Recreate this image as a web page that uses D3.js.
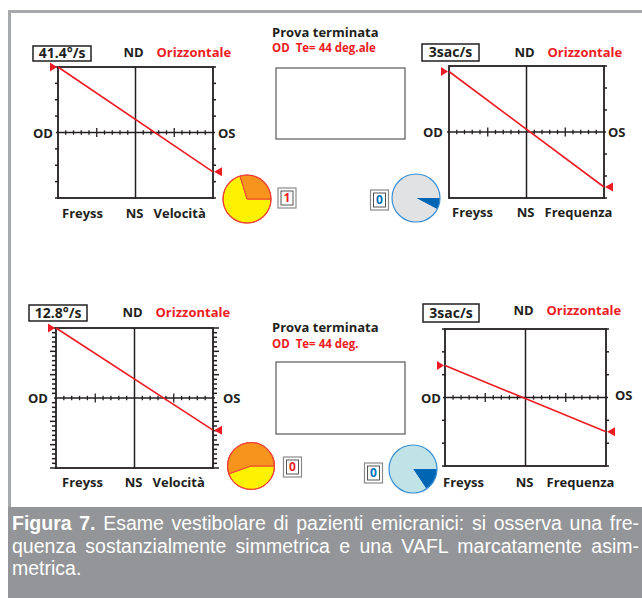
<!DOCTYPE html>
<html>
<head>
<meta charset="utf-8">
<script src="https://cdn.jsdelivr.net/npm/d3@7"></script>
<style>
  body { margin: 0; background: #fff; }
  svg { display: block; }
</style>
</head>
<body>
<div id="chart"></div>
<script>
// Dati dei quattro pannelli: alto-sx, alto-dx, basso-sx, basso-dx
const valueLabels = ["41.4°/s", "3sac/s", "12.8°/s", "3sac/s"];
const bottomLabels = ["Velocità", "Frequenza", "Velocità", "Frequenza"];
const yLimits = [40, 3, 15, 3];
const yTickSteps = [10, 1, 1, 1];
const yMajorSteps = [0, 0, 5, 0];
const lineStartValues = [40, 2.75, 15, 1.4];     // lato OD
const lineEndValues = [-24, -2.5, -6.9, -1.5];   // lato OS
const xDomain = [-10, 10];
const xMajorTicks = [-5, 5];
const pieMainShare = [70.3, 7.8, 44.6, 15.6];    // giallo / blu scuro (%)
const counterValues = ["1", "0", "0", "0"];
const resultTitle = "Prova terminata";
const resultLines = ["OD  Te= 44 deg.ale", "OD  Te= 44 deg."];
const captionBold = "Figura 7.";
const captionLines = [
    " Esame vestibolare di pazienti emicranici: si osserva una fre-",
    "quenza sostanzialmente simmetrica e una VAFL marcatamente asim-",
    "metrica."
];

const W = 642, H = 598;
const RED = "#ed1c24", INK = "#231f20";
const FONT = "'Open Sans', 'Noto Sans', sans-serif";

// posizioni dei pannelli (pixel)
const layout = [
    { x: 58,  y: 67,  w: 155, h: 131, ticksL: true,  tickLen: 3, label: [33, 46, 58, 15], head: 57, foot: 218, odX: 53, osX: 218, freyss: 62, pie: [247, 199, 24], box: [287, 198], pieType: "vel" },
    { x: 449, y: 66,  w: 155, h: 132, ticksL: false, tickLen: 3, label: [422, 44, 57, 17], head: 57, foot: 217, odX: 443, osX: 608, freyss: 452, pie: [416, 198, 24], box: [379.5, 200], pieType: "freq" },
    { x: 56,  y: 328, w: 157, h: 140, ticksL: true,  tickLen: 4, label: [29, 305, 58, 16], head: 317, foot: 487, odX: 48, osX: 223, freyss: 62, pie: [251, 466, 23.5], box: [292.5, 467], pieType: "vel" },
    { x: 445, y: 329, w: 161, h: 137, ticksL: true,  tickLen: 3, label: [423, 304, 56, 18], head: 315, foot: 487, odX: 441, osX: 615, freyss: 443, pie: [413, 469, 24], box: [373.5, 473], pieType: "freq2" }
];

const pieColors = {
    vel:   { main: "#fff200", rest: "#f7941e", stroke: "#ef4136", text: RED },
    freq:  { main: "#0066b3", rest: "#e1e2e3", stroke: "#3a8fd4", text: "#0072bc" },
    freq2: { main: "#0066b3", rest: "#bfe3e7", stroke: "#3a8fd4", text: "#0072bc" }
};

const svg = d3.select("#chart").append("svg")
    .attr("width", W).attr("height", H)
    .attr("viewBox", [0, 0, W, H])
    .style("font-family", FONT);

// cornice grigia e didascalia
svg.append("rect").attr("x", 8).attr("y", 10).attr("width", W - 8).attr("height", H - 10).attr("fill", "#a7a9ac");
svg.append("rect").attr("x", 11).attr("y", 13).attr("width", W - 11).attr("height", 494).attr("fill", "#fff");
svg.append("rect").attr("x", 8).attr("y", 507).attr("width", W - 8).attr("height", H - 507).attr("fill", "#939598");

// ---- pannelli ----
layout.forEach((L, i) => {
    const g = svg.append("g");
    const x = d3.scaleLinear().domain(xDomain).range([L.x, L.x + L.w]);
    const y = d3.scaleLinear().domain([yLimits[i], -yLimits[i]]).range([L.y, L.y + L.h]);
    const cx = x(0), cy = y(0);

    // tacche sui bordi verticali
    const yt = d3.range(-yLimits[i], yLimits[i] + 1e-9, yTickSteps[i]).filter(v => v !== 0);
    const tickLen = v => (yMajorSteps[i] && Math.abs(v) % yMajorSteps[i] === 0) ? L.tickLen + 2 : L.tickLen;
    const sides = L.ticksL ? [-1, 1] : [1];
    sides.forEach(s => {
        const ex = s < 0 ? L.x : L.x + L.w;
        g.append("g").selectAll("line").data(yt).join("line")
            .attr("x1", ex).attr("x2", d => ex + s * tickLen(d))
            .attr("y1", d => y(d)).attr("y2", d => y(d))
            .attr("stroke", INK).attr("stroke-width", 1.5);
    });

    // cornice del grafico e assi
    g.append("rect").attr("x", L.x).attr("y", L.y).attr("width", L.w).attr("height", L.h)
        .attr("fill", "none").attr("stroke", INK).attr("stroke-width", 1.8);
    g.append("line").attr("x1", cx).attr("x2", cx).attr("y1", L.y).attr("y2", L.y + L.h)
        .attr("stroke", INK).attr("stroke-width", 1.5);
    g.append("line").attr("x1", L.x - 2).attr("x2", L.x + L.w + 2).attr("y1", cy).attr("y2", cy)
        .attr("stroke", INK).attr("stroke-width", 1.6);

    // tacche asse orizzontale
    const xt = d3.range(xDomain[0] + 1, xDomain[1]).filter(v => v !== 0);
    g.append("g").selectAll("line").data(xt).join("line")
        .attr("x1", d => x(d)).attr("x2", d => x(d))
        .attr("y1", d => cy - (xMajorTicks.includes(d) ? 4.5 : 2.2))
        .attr("y2", d => cy + (xMajorTicks.includes(d) ? 4.5 : 2.2))
        .attr("stroke", INK).attr("stroke-width", 1.3);

    // retta rossa
    const x0 = x(xDomain[0]), x1 = x(xDomain[1]);
    const y0 = y(lineStartValues[i]), y1 = y(lineEndValues[i]);
    g.append("line").attr("x1", x0).attr("y1", y0).attr("x2", x1).attr("y2", y1)
        .attr("stroke", RED).attr("stroke-width", 1.6);
    g.append("path").attr("d", `M${x0 - 1},${y0} L${x0 - 8},${y0 - 4.5} L${x0 - 8},${y0 + 4.5}Z`).attr("fill", RED);
    g.append("path").attr("d", `M${x1 + 1},${y1} L${x1 + 9},${y1 - 4.5} L${x1 + 9},${y1 + 4.5}Z`).attr("fill", RED);

    // etichette
    const [bx, by, bw, bh] = L.label;
    g.append("rect").attr("x", bx).attr("y", by).attr("width", bw).attr("height", bh)
        .attr("fill", "#fff").attr("stroke", INK).attr("stroke-width", 1.5);
    g.append("text").attr("x", bx + bw / 2).attr("y", by + bh / 2).attr("dy", "0.35em")
        .attr("text-anchor", "middle").style("font-size", "14px").style("font-weight", 700)
        .attr("fill", INK).text(valueLabels[i]);

    const txt = (tx, ty, s, anchor, col) => g.append("text").attr("x", tx).attr("y", ty)
        .attr("text-anchor", anchor || "start").attr("fill", col || INK)
        .style("font-size", "13px").style("font-weight", 700).text(s);

    txt(cx - 2, L.head, "ND", "middle");
    txt(cx + 21, L.head, "Orizzontale", "start", RED);
    txt(L.odX, cy + 5, "OD", "end");
    txt(L.osX, cy + (i === 3 ? 2 : 5), "OS");
    txt(L.freyss, L.foot, "Freyss");
    txt(cx - 1, L.foot, "NS", "middle");
    txt(cx + (i === 3 ? 21 : 18), L.foot, bottomLabels[i]);

    // torta
    const pc = pieColors[L.pieType];
    const [px, py, pr] = L.pie;
    const pie = d3.pie().sort(null).startAngle(Math.PI / 2).endAngle(Math.PI / 2 + 2 * Math.PI);
    const arc = d3.arc().innerRadius(0).outerRadius(pr);
    g.append("g").attr("transform", `translate(${px},${py})`)
        .selectAll("path").data(pie([pieMainShare[i], 100 - pieMainShare[i]])).join("path")
        .attr("d", arc)
        .attr("fill", (d, k) => k === 0 ? pc.main : pc.rest)
        .attr("stroke", L.pieType === "vel" ? pc.stroke : "none").attr("stroke-width", 1);
    g.append("circle").attr("cx", px).attr("cy", py).attr("r", pr)
        .attr("fill", "none").attr("stroke", pc.stroke).attr("stroke-width", 1.2);

    // contatore
    const [qx, qy] = L.box;
    g.append("rect").attr("x", qx - 9).attr("y", qy - 10).attr("width", 18).attr("height", 20)
        .attr("fill", "#fff").attr("stroke", "#8a8a8a").attr("stroke-width", 1.2);
    g.append("rect").attr("x", qx - 6).attr("y", qy - 7).attr("width", 12).attr("height", 14)
        .attr("fill", "#fff").attr("stroke", "#555").attr("stroke-width", 1);
    g.append("text").attr("x", qx).attr("y", qy).attr("dy", "0.36em").attr("text-anchor", "middle")
        .style("font-size", "12px").style("font-weight", 700).attr("fill", pc.text).text(counterValues[i]);
});

// ---- riquadri centrali "Prova terminata" ----
const middle = [{ t: 37, r: 52, box: [276, 68, 129, 71] }, { t: 332, r: 348, box: [276, 362, 129, 72] }];
middle.forEach((m, k) => {
    svg.append("text").attr("x", 272).attr("y", m.t).attr("fill", INK)
        .style("font-size", "13px").style("font-weight", 700).text(resultTitle);
    svg.append("text").attr("x", 272).attr("y", m.r).attr("fill", RED)
        .style("font-size", "11.5px").style("font-weight", 700).style("white-space", "pre").text(resultLines[k]);
    svg.append("rect").attr("x", m.box[0]).attr("y", m.box[1]).attr("width", m.box[2]).attr("height", m.box[3])
        .attr("fill", "#fff").attr("stroke", "#58595b").attr("stroke-width", 1.2);
});

// ---- didascalia giustificata (carattere compresso orizzontalmente) ----
const capFont = "'Liberation Sans', Arial, sans-serif";
const capBase = [530, 553, 575];
const capWidth = 627;
const capGroups = captionLines.map((line, k) => {
    const g = svg.append("g");
    const t = g.append("text").attr("x", 0).attr("y", 0).attr("fill", "#fff")
        .style("font-family", capFont).style("font-size", "19.5px").style("white-space", "pre");
    if (k === 0) t.append("tspan").style("font-weight", 700).text(captionBold);
    t.append("tspan").text(line);
    return { g, t, len: t.node().getComputedTextLength(), spaces: ((k === 0 ? captionBold : "") + line).split(" ").length - 1 };
});
// fattore di compressione ricavato dalla prima riga
const squeeze = Math.min(1, capWidth / capGroups[0].len);
capGroups.forEach((c, k) => {
    c.g.attr("transform", `translate(12,${capBase[k]}) scale(${squeeze},1)`);
    if (k < capGroups.length - 1 && c.spaces > 0) {
        const extra = (capWidth / squeeze - c.len) / c.spaces;
        c.t.style("word-spacing", extra + "px");
    }
});
</script>
</body>
</html>
